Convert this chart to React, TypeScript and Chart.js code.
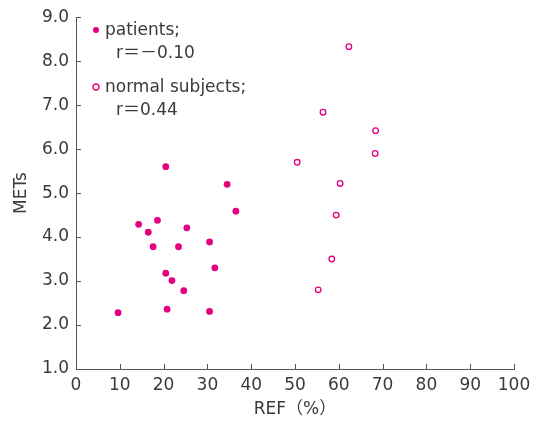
import React, { useEffect, useRef } from "react";
import { Chart, registerables } from "chart.js";

Chart.register(...registerables);

const patientsREF = [20.5, 34.5, 36.5, 14.3, 18.6, 16.5, 25.3, 17.6, 23.4, 30.5, 31.7, 20.5, 21.9, 24.6, 9.6, 20.8, 30.5];
const patientsMETs = [5.6, 5.2, 4.59, 4.29, 4.38, 4.11, 4.21, 3.78, 3.78, 3.89, 3.3, 3.18, 3.01, 2.78, 2.28, 2.36, 2.31];
const normalREF = [62.3, 56.4, 68.4, 68.3, 50.5, 60.3, 59.4, 58.4, 55.3];
const normalMETs = [8.33, 6.84, 6.42, 5.9, 5.7, 5.22, 4.5, 3.5, 2.8];

const xTickLabels = ["0", "10", "20", "30", "40", "50", "60", "70", "80", "90", "100"];
const yTickLabels = ["1.0", "2.0", "3.0", "4.0", "5.0", "6.0", "7.0", "8.0", "9.0"];

const legendLines = [
  ["patients;", "r＝－0.10"],
  ["normal subjects;", "r＝0.44"],
];
const xTitle = "REF（%）";
const yTitle = "METs";

const MAGENTA = "#e4007f";
const TEXT = "#3a3a3a";
const AXIS = "#555555";
const FONT = "'DejaVu Sans', 'Noto Sans CJK JP', sans-serif";
const FS = 17;

export default function App() {
  const ref = useRef<HTMLCanvasElement>(null);
  useEffect(() => {
    if (!ref.current) return;
    const inwardTicks = {
      id: "inwardTicks",
      afterDraw(chart: any) {
        const ctx = chart.ctx;
        const xs = chart.scales.x;
        const ys = chart.scales.y;
        const area = chart.chartArea;
        ctx.save();
        ctx.strokeStyle = AXIS;
        ctx.lineWidth = 1;
        xs.ticks.forEach((t: any) => {
          const px = Math.round(xs.getPixelForValue(t.value)) + 0.5;
          ctx.beginPath();
          ctx.moveTo(px, area.bottom);
          ctx.lineTo(px, area.bottom - 5);
          ctx.stroke();
        });
        ys.ticks.forEach((t: any) => {
          const py = Math.round(ys.getPixelForValue(t.value)) + 0.5;
          ctx.beginPath();
          ctx.moveTo(area.left, py);
          ctx.lineTo(area.left + 5, py);
          ctx.stroke();
        });
        ctx.restore();
      },
    };
    const customLegend = {
      id: "customLegend",
      afterDraw(chart: any) {
        const ctx = chart.ctx;
        ctx.save();
        ctx.font = `${FS}px ${FONT}`;
        ctx.fillStyle = TEXT;
        ctx.textBaseline = "middle";
        const rows = [30, 87];
        legendLines.forEach((lines, i) => {
          const y = rows[i];
          ctx.beginPath();
          ctx.arc(96, y, 3, 0, Math.PI * 2);
          if (i === 0) {
            ctx.fillStyle = MAGENTA;
            ctx.fill();
          } else {
            ctx.fillStyle = "#ffffff";
            ctx.fill();
            ctx.strokeStyle = MAGENTA;
            ctx.lineWidth = 1.3;
            ctx.stroke();
          }
          ctx.fillStyle = TEXT;
          ctx.fillText(lines[0], 105, y + 1);
          ctx.fillText(lines[1], 116, y + 24);
        });
        ctx.restore();
      },
    };
    const chart = new Chart(ref.current, {
      type: "scatter",
      data: {
        datasets: [
          {
            label: "patients",
            data: patientsREF.map((x, i) => ({ x, y: patientsMETs[i] })),
            backgroundColor: MAGENTA,
            borderColor: MAGENTA,
            pointRadius: 3.4,
            borderWidth: 0,
          },
          {
            label: "normal subjects",
            data: normalREF.map((x, i) => ({ x, y: normalMETs[i] })),
            backgroundColor: "#ffffff",
            borderColor: MAGENTA,
            pointRadius: 2.8,
            borderWidth: 1.3,
          },
        ],
      },
      options: {
        responsive: false,
        animation: false,
        layout: { padding: { top: 14, right: 28, left: 0, bottom: 0 } },
        plugins: { legend: { display: false }, tooltip: { enabled: false } },
        scales: {
          x: {
            type: "linear",
            min: 0,
            max: 100,
            afterFit: (s: any) => {
              s.height = 55;
            },
            ticks: {
              stepSize: 10,
              color: TEXT,
              padding: 6,
              font: { family: FONT, size: FS },
              callback: (v: any) => xTickLabels[Math.round(Number(v) / 10)] ?? "",
            },
            grid: { display: false, drawTicks: false },
            border: { display: true, color: AXIS, width: 1 },
            title: {
              display: true,
              text: xTitle,
              color: TEXT,
              font: { family: FONT, size: FS },
              padding: { top: 0, bottom: 4 },
            },
          },
          y: {
            type: "linear",
            min: 1,
            max: 9,
            afterFit: (s: any) => {
              s.width = 76;
            },
            ticks: {
              stepSize: 1,
              color: TEXT,
              padding: 7,
              font: { family: FONT, size: FS },
              callback: (v: any) => yTickLabels[Math.round(Number(v)) - 1] ?? "",
            },
            grid: { display: false, drawTicks: false },
            border: { display: true, color: AXIS, width: 1 },
            title: {
              display: true,
              text: yTitle,
              color: TEXT,
              font: { family: FONT, size: FS },
              padding: { top: 11, bottom: 0 },
            },
          },
        },
      },
      plugins: [inwardTicks, customLegend],
    });
    return () => chart.destroy();
  }, []);
  return (
    <div style={{ position: "absolute", left: 0, top: 0, width: 542, height: 424, background: "#fff" }}>
      <canvas ref={ref} width={542} height={424} />
    </div>
  );
}
